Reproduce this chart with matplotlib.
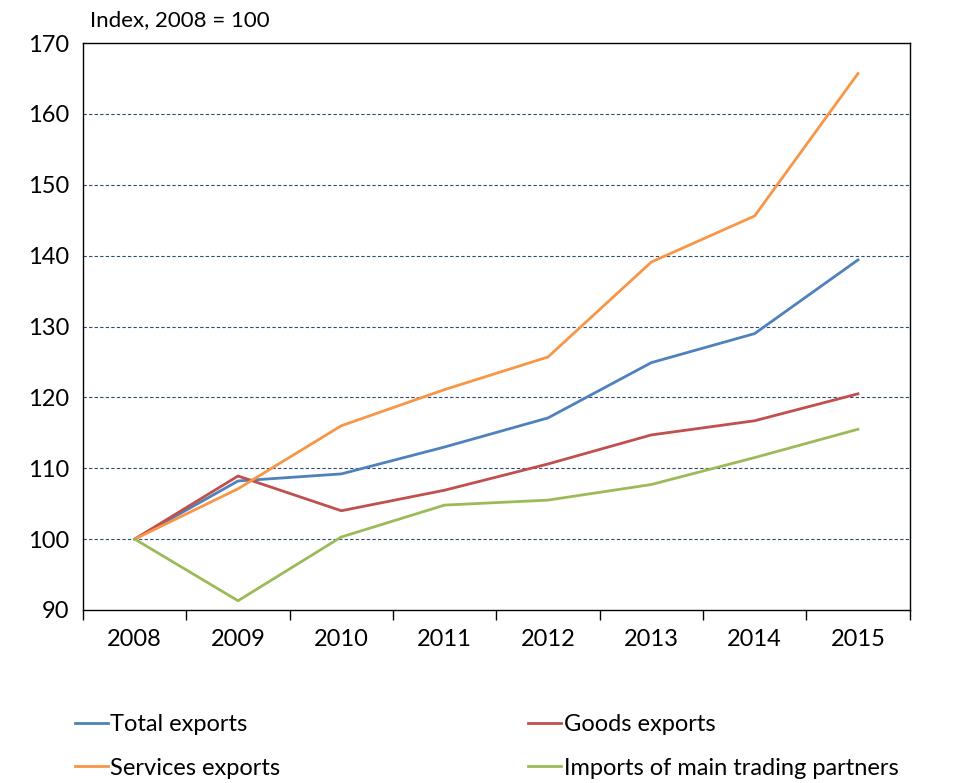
import matplotlib
matplotlib.use("Agg")
import matplotlib.pyplot as plt

plt.rcParams['font.family'] = ['Lato', 'DejaVu Sans']

years = ['2008', '2009', '2010', '2011', '2012', '2013', '2014', '2015']
total_exports = [100, 108.2, 109.2, 113.0, 117.1, 124.9, 129.0, 139.4]
goods_exports = [100, 108.9, 104.0, 106.9, 110.6, 114.7, 116.7, 120.5]
services_exports = [100, 107.1, 116.0, 121.1, 125.7, 139.1, 145.6, 165.7]
partner_imports = [100, 91.3, 100.3, 104.8, 105.5, 107.7, 111.5, 115.5]

series = [
    ('Total exports', total_exports, '#4F81BD'),
    ('Goods exports', goods_exports, '#C0504D'),
    ('Services exports', services_exports, '#F79646'),
    ('Imports of main trading partners', partner_imports, '#9BBB59'),
]

fig = plt.figure(figsize=(9.6, 7.83), dpi=100)
ax = fig.add_axes([0.0865, 0.221, 0.861, 0.724])

x = range(len(years))
lines = []
for label, vals, color in series:
    ln, = ax.plot(x, vals, color=color, lw=2.0, label=label)
    lines.append(ln)

ax.set_xlim(-0.5, len(years) - 0.5)
ax.set_ylim(90, 170)
ax.set_yticks(range(90, 171, 10))
ax.set_xticks(list(x))
ax.set_xticklabels(years)
ax.set_xticks([i - 0.5 for i in range(len(years) + 1)], minor=True)
ax.tick_params(axis='x', which='major', length=0, pad=14, labelsize=17)
ax.tick_params(axis='y', length=0, pad=10, labelsize=17)
ax.tick_params(axis='x', which='minor', length=7, width=1, direction='out')

for v in range(100, 170, 10):
    ax.axhline(v, color='#2E4A75', lw=0.8, ls=(0, (3, 2)), zorder=0)
for s in ax.spines.values():
    s.set_color('black')
    s.set_linewidth(1.0)

fig.text(0.094, 0.974, 'Index, 2008 = 100', fontsize=16, va='center', ha='left')

# legend fills column-wise, so order handles to read row by row
order = [0, 2, 1, 3]
fig.legend(handles=[lines[i] for i in order], loc='upper left',
           bbox_to_anchor=(0.068, 0.1), ncol=2, frameon=False, fontsize=17,
           handlelength=1.4, handletextpad=0.1, columnspacing=10.5,
           labelspacing=0.95, borderaxespad=0)

fig.savefig('out.png', dpi=100)
